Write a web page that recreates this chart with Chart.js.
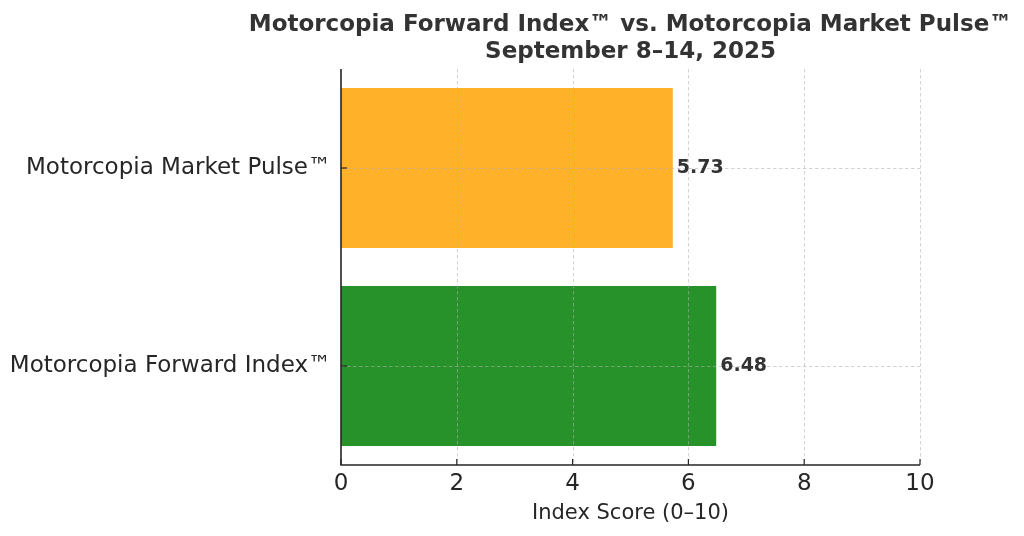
<!DOCTYPE html>
<html>
<head>
<meta charset="utf-8">
<script src="https://cdn.jsdelivr.net/npm/chart.js@4"></script>
<style>
html,body{margin:0;padding:0;background:#fff;}
#wrap{width:1024px;height:536px;position:relative;}
</style>
</head>
<body>
<div id="wrap"><canvas id="c" width="1024" height="536"></canvas></div>
<script>
const categories = ["Motorcopia Market Pulse™", "Motorcopia Forward Index™"];
const values = [5.73, 6.48];
const barColors = ["#FFB12A", "#27922A"];
const xTicks = [0, 2, 4, 6, 8, 10];
const titleLines = ["Motorcopia Forward Index™ vs. Motorcopia Market Pulse™", "September 8–14, 2025"];
const xAxisTitle = "Index Score (0–10)";

const FONT = "'DejaVu Sans', sans-serif";

const overlay = {
  id: 'overlay',
  afterDatasetsDraw(chart) {
    const ctx = chart.ctx, ca = chart.chartArea;
    const xs = chart.scales.x, ys = chart.scales.y;
    ctx.save();
    // grid on top of bars
    ctx.strokeStyle = 'rgba(176,176,176,0.7)';
    ctx.lineWidth = 0.8;
    ctx.setLineDash([3.5, 2.5]);
    xTicks.forEach(v => {
      if (v === 0) return;
      const px = Math.round(xs.getPixelForValue(v)) + 0.5;
      ctx.beginPath(); ctx.moveTo(px, ca.top); ctx.lineTo(px, ca.bottom); ctx.stroke();
    });
    categories.forEach((c, i) => {
      const py = Math.round(ys.getPixelForValue(i)) + 0.5;
      ctx.beginPath(); ctx.moveTo(ca.left, py); ctx.lineTo(ca.right, py); ctx.stroke();
    });
    ctx.setLineDash([]);
    // spines
    ctx.strokeStyle = '#262626';
    ctx.lineWidth = 1.6;
    ctx.beginPath();
    ctx.moveTo(ca.left, ca.top); ctx.lineTo(ca.left, ca.bottom); ctx.lineTo(ca.right, ca.bottom);
    ctx.stroke();
    // inward ticks
    ctx.lineWidth = 1.2;
    xTicks.forEach(v => {
      const px = xs.getPixelForValue(v);
      ctx.beginPath(); ctx.moveTo(px, ca.bottom); ctx.lineTo(px, ca.bottom - 6); ctx.stroke();
    });
    categories.forEach((c, i) => {
      const py = ys.getPixelForValue(i);
      ctx.beginPath(); ctx.moveTo(ca.left, py); ctx.lineTo(ca.left + 6, py); ctx.stroke();
    });
    // value labels
    ctx.fillStyle = '#333333';
    ctx.font = "bold 19px " + FONT;
    ctx.textAlign = 'left';
    ctx.textBaseline = 'middle';
    values.forEach((v, i) => {
      ctx.fillText(v.toFixed(2), xs.getPixelForValue(v) + 4, ys.getPixelForValue(i));
    });
    // title centered over plot area
    ctx.fillStyle = '#333333';
    ctx.font = "bold 23px " + FONT;
    ctx.textAlign = 'center';
    ctx.textBaseline = 'alphabetic';
    const cx = (ca.left + ca.right) / 2;
    ctx.fillText(titleLines[0], cx, 31);
    ctx.fillText(titleLines[1], cx, 58);
    ctx.restore();
  }
};

new Chart(document.getElementById('c'), {
  type: 'bar',
  data: {
    labels: categories,
    datasets: [{
      data: values,
      backgroundColor: barColors,
      borderWidth: 0,
      barPercentage: 0.808,
      categoryPercentage: 1.0
    }]
  },
  options: {
    indexAxis: 'y',
    responsive: false,
    animation: false,
    layout: { padding: { top: 69, right: 104, left: 0, bottom: 0 } },
    plugins: { legend: { display: false }, tooltip: { enabled: false }, title: { display: false } },
    scales: {
      x: {
        type: 'linear', min: 0, max: 10,
        afterBuildTicks(s) { s.ticks = xTicks.map(v => ({ value: v })); },
        afterFit(s) { s.height = 71; },
        grid: { display: false, drawTicks: false },
        border: { display: false },
        ticks: { color: '#262626', font: { family: FONT, size: 23 }, padding: 5 },
        title: { display: true, text: xAxisTitle, color: '#262626', font: { family: FONT, size: 21 }, padding: { top: 4, bottom: 10 } }
      },
      y: {
        type: 'category',
        afterFit(s) { s.width = 341; },
        grid: { display: false, drawTicks: false },
        border: { display: false },
        ticks: { color: '#262626', font: { family: FONT, size: 23 }, padding: 10 }
      }
    }
  },
  plugins: [overlay]
});
</script>
</body>
</html>
